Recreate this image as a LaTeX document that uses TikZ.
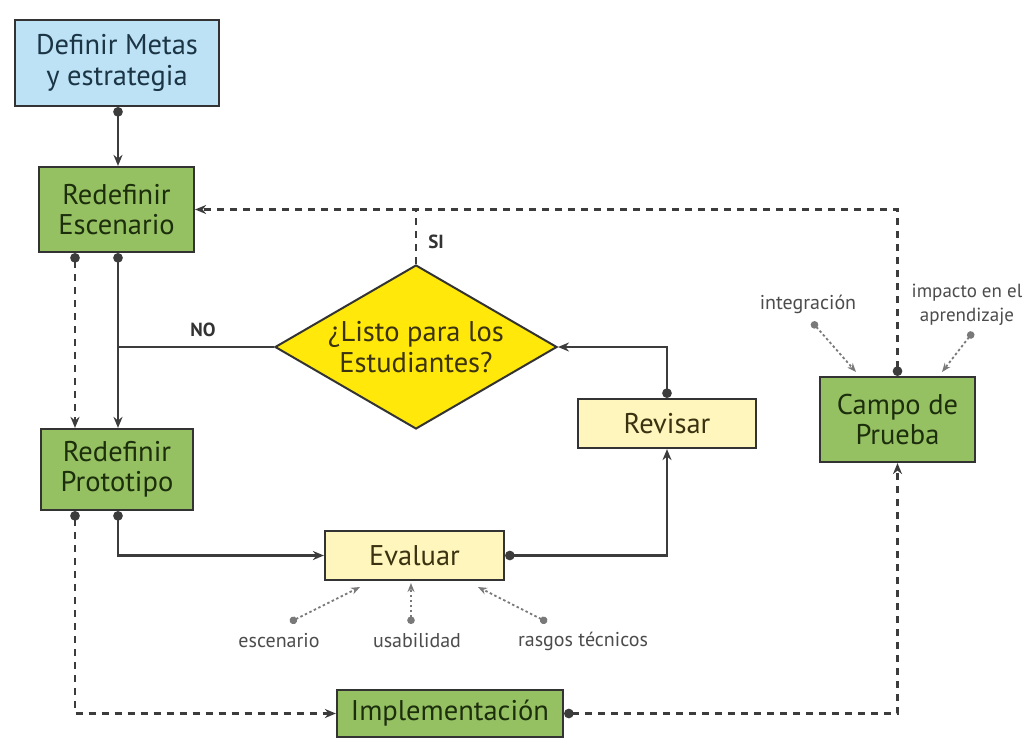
\documentclass[tikz,border=0pt]{standalone}
\usepackage{fontspec}
\setmainfont{PT Sans}
\usetikzlibrary{arrows.meta,shapes.geometric,calc}

\definecolor{boxline}{HTML}{333333}
\definecolor{linegray}{HTML}{3C3C3C}
\definecolor{lblgray}{HTML}{4C4C4C}
\definecolor{fillblue}{HTML}{BDE2F6}
\definecolor{fillgreen}{HTML}{95C163}
\definecolor{fillcream}{HTML}{FEF6BC}
\definecolor{fillyellow}{HTML}{FFE80A}
\definecolor{txtgreen}{HTML}{1C2E0C}
\definecolor{txtblue}{HTML}{1B3545}
\definecolor{txtolive}{HTML}{3A3210}

\begin{document}
\begin{tikzpicture}[x=1pt,y=-1pt,
  box/.style={draw=boxline, line width=2.2pt, inner sep=0pt, align=center,
    font=\fontsize{28.5}{30.5}\selectfont},
  bluebox/.style={box, fill=fillblue, text=txtblue},
  greenbox/.style={box, fill=fillgreen, text=txtgreen},
  creambox/.style={box, fill=fillcream, text=txtolive},
  flow/.style={line width=2.8pt, draw=linegray,
    {Circle[length=9.5pt]}-{Stealth[length=11pt,width=9pt]}},
  plain/.style={line width=2.8pt, draw=linegray},
  dflow/.style={flow, dash pattern=on 7pt off 6pt},
  dplain/.style={plain, dash pattern=on 7pt off 6pt},
  lblarrow/.style={line width=1.8pt, draw=lblgray!75!white, dash pattern=on 2.5pt off 2.5pt,
    {Circle[length=7.5pt]}-{Stealth[length=9pt,width=7pt]}},
  lbl/.style={text=lblgray, align=center, inner sep=0pt,
    font=\fontsize{20}{24}\selectfont},
  tag/.style={text=boxline, inner sep=0pt, font=\bfseries\fontsize{19}{22}\selectfont}
]
\useasboundingbox (0,0) rectangle (1029,740);
\fill[white] (0,0) rectangle (1029,740);
\clip (0,0) rectangle (1029,740);

% process boxes
\node[bluebox, minimum width=204, minimum height=86] (meta) at (117,63) {Definir Metas\\y estrategia};
\node[greenbox, minimum width=155, minimum height=85] (esc) at (116.5,209.5) {Redefinir\\Escenario};
\node[greenbox, minimum width=152, minimum height=81] (proto) at (117,469.5) {Redefinir\\Prototipo};
\node[creambox, minimum width=178, minimum height=49] (rev) at (667,423.5) {Revisar};
\node[creambox, minimum width=179, minimum height=49] (eval) at (414.5,555.5) {Evaluar};
\node[greenbox, minimum width=155, minimum height=85] (campo) at (897.5,419.5) {Campo de\\Prueba};
\node[greenbox, minimum width=226, minimum height=47] (impl) at (450,713.5) {Implementación};

% decision
\node[diamond, draw=boxline, line width=2pt, fill=fillyellow, inner sep=0pt,
  minimum width=282, minimum height=164] (q) at (416,347) {};
\node[align=center, text=txtolive, font=\fontsize{28.5}{30.5}\selectfont] (qtext) at (q) {¿Listo para los\\Estudiantes?};

% spines
\coordinate (xa) at (118,0);
\coordinate (xb) at (75,0);

% solid flow
\draw[flow] (meta.south -| xa) -- (esc.north -| xa);
\draw[flow] (esc.south -| xa) -- (proto.north -| xa);
\draw[plain] (q.west) -- (q.west -| xa);
\draw[flow] (proto.south -| xa) |- (eval.west);
\draw[flow] (eval.east) -| (rev.south);
\draw[flow] (rev.north) |- (q.east);

% dashed flow
\draw[dflow] (esc.south -| xb) -- (proto.north -| xb);
\draw[dflow] (proto.south -| xb) |- (impl.west);
\draw[dflow] (impl.east) -| (campo.south);
\draw[dflow] (campo.north) |- (esc.east);
\draw[dplain] (q.north) -- (q.north |- esc.east);

% branch tags
\node[tag] (si) at (436,242) {SI};
\node[tag] (no) at (203,330) {NO};

% evaluation criteria
\node[lbl] (lesc) at (279,641) {escenario};
\node[lbl] (lusa) at (417,641) {usabilidad};
\node[lbl] (lras) at (583,641) {rasgos técnicos};
\coordinate (pesc) at (290,622);
\coordinate (pusa) at (411,624);
\coordinate (pras) at (547,622);
\coordinate (tesc) at (360,587);
\coordinate (tusa) at (411,583);
\coordinate (tras) at (478,587);
\draw[lblarrow] (pesc) -- (tesc);
\draw[lblarrow] (pusa) -- (tusa);
\draw[lblarrow] (pras) -- (tras);

% field-test criteria
\node[lbl] (lint) at (808,304) {integración};
\node[lbl, font=\fontsize{19}{24}\selectfont] (limp) at (967,305) {impacto en el\\aprendizaje};
\coordinate (pint) at (812,322);
\coordinate (pimp) at (973,332);
\coordinate (tint) at (856,372);
\coordinate (timp) at (942,372);
\draw[lblarrow] (pint) -- (tint);
\draw[lblarrow] (pimp) -- (timp);
\end{tikzpicture}
\end{document}
